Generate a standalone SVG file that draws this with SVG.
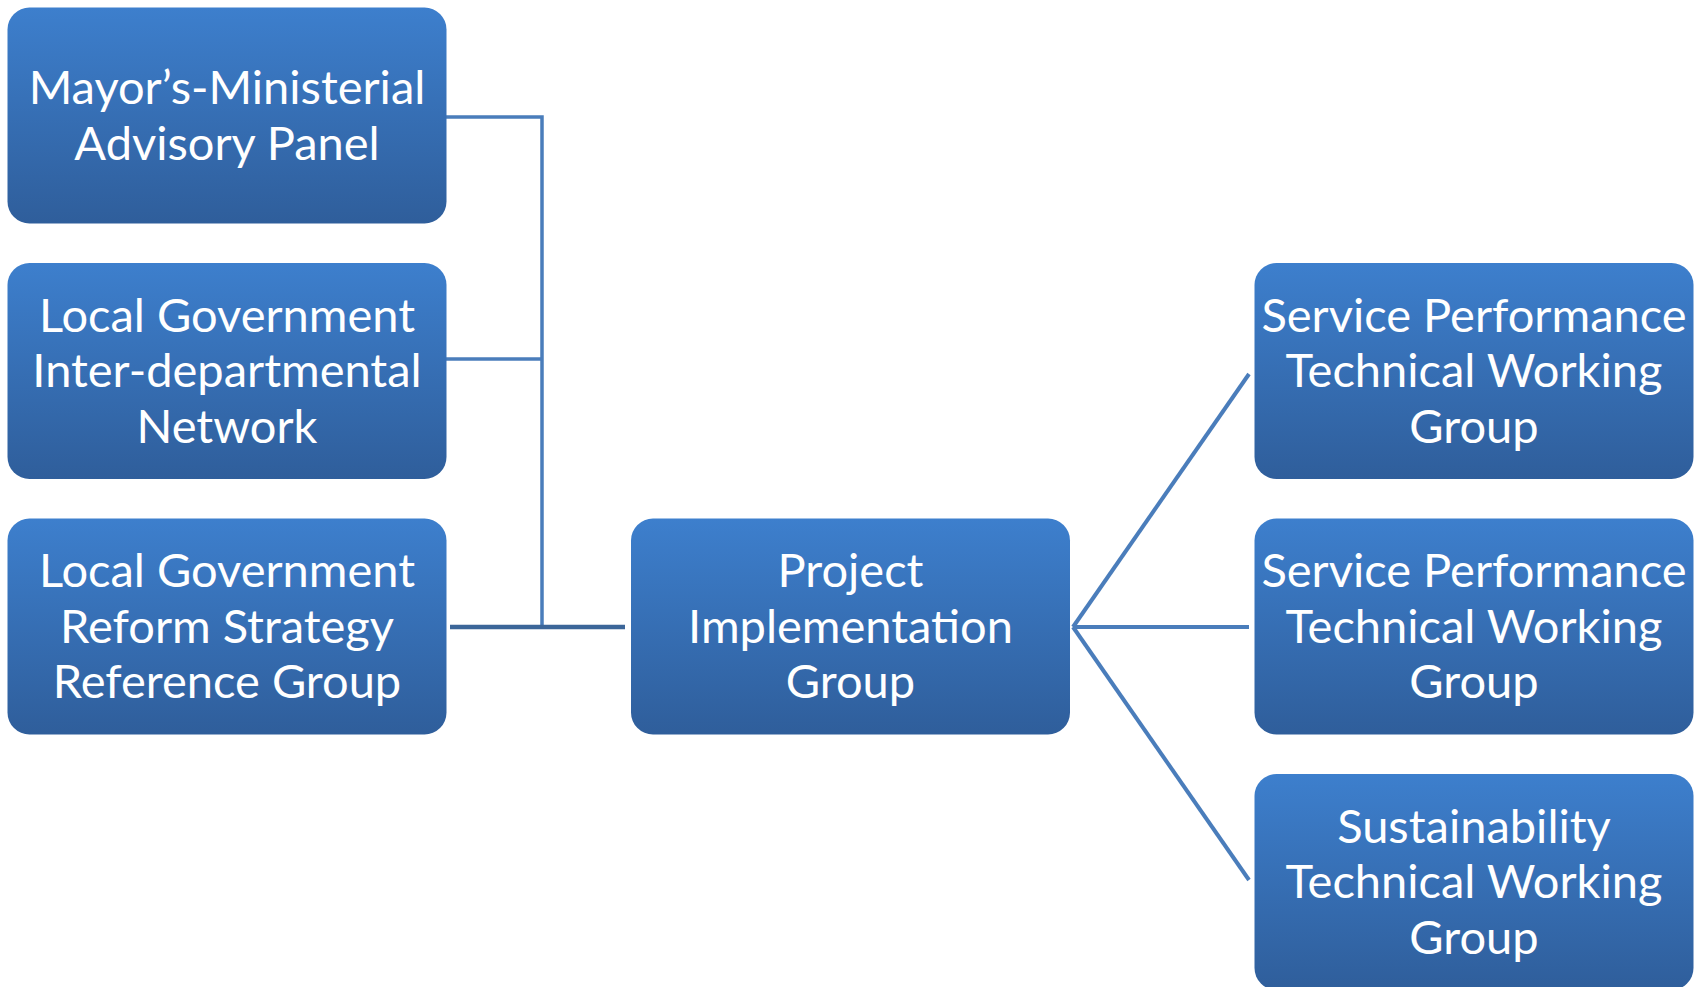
<svg xmlns="http://www.w3.org/2000/svg" width="1700" height="987" viewBox="0 0 1700 987">
<defs>
<linearGradient id="g" x1="0" y1="0" x2="0" y2="1">
<stop offset="0" stop-color="#3d7fcd"/>
<stop offset="1" stop-color="#2f5e9b"/>
</linearGradient>
</defs>
<style>
.box{fill:url(#g);}
.t{font-family:Lato,"Noto Sans","DejaVu Sans",sans-serif;font-size:47px;fill:#ffffff;text-anchor:middle;}
.c{stroke:#4a7dbb;stroke-width:3.5;fill:none;}
.cd{stroke:#4a7dbb;stroke-width:4;fill:none;}
.ck{stroke:#3c6699;stroke-width:4.5;fill:none;}
</style>
<g id="connectors">
<polyline class="c" points="440,117 542,117 542,629"/>
<line class="c" x1="440" y1="359" x2="542" y2="359"/>
<line class="ck" x1="450" y1="627" x2="625" y2="627"/>
<line class="cd" x1="1073" y1="627" x2="1249" y2="374"/>
<line class="cd" x1="1073" y1="627" x2="1249" y2="627"/>
<line class="cd" x1="1073" y1="627" x2="1249" y2="880"/>
</g>
<g id="n1">
<rect class="box" x="7.5" y="7.5" width="439" height="216" rx="22"/>
<text class="t" x="227" y="104">Mayor’s-Ministerial</text>
<text class="t" x="227" y="159.5">Advisory Panel</text>
</g>
<g id="n2">
<rect class="box" x="7.5" y="263" width="439" height="216" rx="22"/>
<text class="t" x="227" y="331.5">Local Government</text>
<text class="t" x="227" y="387">Inter-departmental</text>
<text class="t" x="227" y="442.5">Network</text>
</g>
<g id="n3">
<rect class="box" x="7.5" y="518.5" width="439" height="216" rx="22"/>
<text class="t" x="227" y="587">Local Government</text>
<text class="t" x="227" y="642.5">Reform Strategy</text>
<text class="t" x="227" y="698">Reference Group</text>
</g>
<g id="n4">
<rect class="box" x="631" y="518.5" width="439" height="216" rx="22"/>
<text class="t" x="850.5" y="587">Project</text>
<text class="t" x="850.5" y="642.5">Implementation</text>
<text class="t" x="850.5" y="698">Group</text>
</g>
<g id="n5">
<rect class="box" x="1254.5" y="263" width="439" height="216" rx="22"/>
<text class="t" x="1474" y="331.5">Service Performance</text>
<text class="t" x="1474" y="387">Technical Working</text>
<text class="t" x="1474" y="442.5">Group</text>
</g>
<g id="n6">
<rect class="box" x="1254.5" y="518.5" width="439" height="216" rx="22"/>
<text class="t" x="1474" y="587">Service Performance</text>
<text class="t" x="1474" y="642.5">Technical Working</text>
<text class="t" x="1474" y="698">Group</text>
</g>
<g id="n7">
<rect class="box" x="1254.5" y="774" width="439" height="216" rx="22"/>
<text class="t" x="1474" y="842.5">Sustainability</text>
<text class="t" x="1474" y="898">Technical Working</text>
<text class="t" x="1474" y="953.5">Group</text>
</g>
</svg>
